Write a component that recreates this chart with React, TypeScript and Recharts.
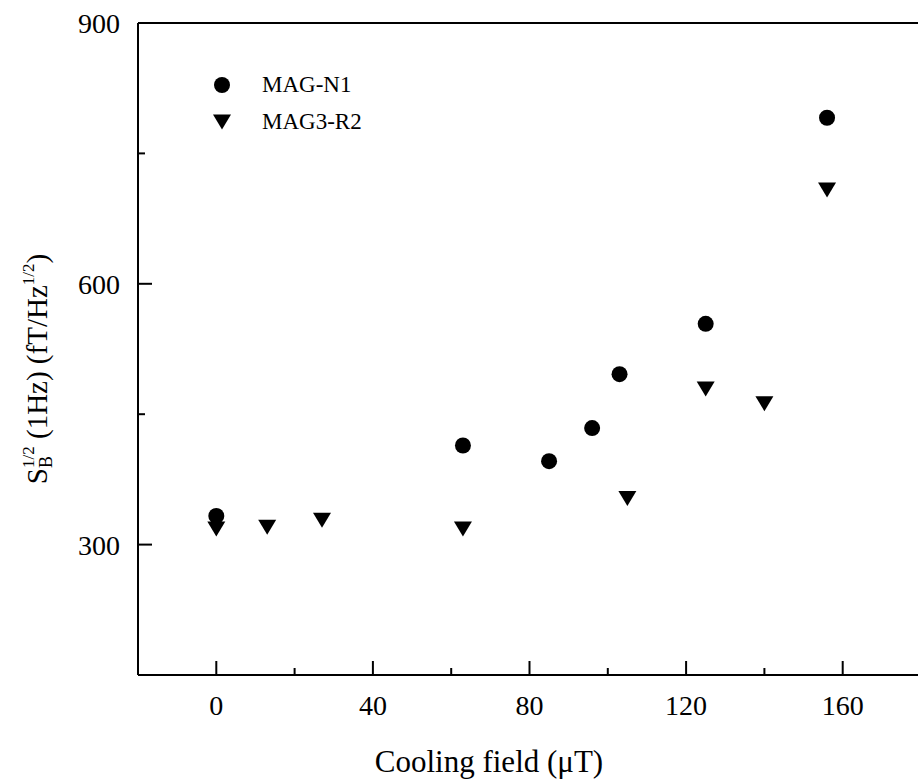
import { ScatterChart, Scatter, XAxis, YAxis, Legend } from 'recharts'

// cooling field (uT) vs noise S_B^1/2 at 1 Hz (fT/Hz^1/2)
const fieldN1 = [0, 63, 85, 96, 103, 125, 156]
const noiseN1 = [333, 414, 396, 434, 496, 554, 791]
const fieldR2 = [0, 13, 27, 63, 105, 125, 140, 156]
const noiseR2 = [318, 320, 328, 318, 353, 479, 462, 708]

const xMajor = [0, 40, 80, 120, 160]
const xTicks = [0, 20, 40, 60, 80, 100, 120, 140, 160]
const yMajor = [300, 600, 900]
const yTicks = [300, 450, 600, 750, 900]
const xDomain = [-20, 180]
const yDomain = [150, 900]

const n1 = fieldN1.map((x, i) => ({ x, y: noiseN1[i] }))
const r2 = fieldR2.map((x, i) => ({ x, y: noiseR2[i] }))

const font = '"Liberation Serif", "Times New Roman", serif'
const ink = '#000'
const line = { stroke: ink, strokeWidth: 2 }
const tickFont = 28
const GAP = 20
const MAJOR = 14
const MINOR = 7

function Dot(props: any) {
  return <circle cx={props.cx} cy={props.cy} r={8} fill={ink} />
}

function TriDown(props: any) {
  const { cx, cy } = props
  return <path d={`M${cx - 9},${cy - 7.5}L${cx + 9},${cy - 7.5}L${cx},${cy + 7.5}Z`} fill={ink} />
}

// tick renderers: draw the inward tick mark and (for majors) the number
function BottomTick(props: any) {
  const { x, y, payload } = props
  const major = xMajor.includes(payload.value)
  const y0 = y - GAP
  return (
    <g>
      <line x1={x} x2={x} y1={y0} y2={y0 - (major ? MAJOR : MINOR)} stroke={ink} strokeWidth={2} />
      {major && (
        <text x={x} y={y} dy="0.71em" textAnchor="middle" fontSize={tickFont} fontFamily={font} fill={ink}>
          {payload.value}
        </text>
      )}
    </g>
  )
}

function TopTick(props: any) {
  const { x, y, payload } = props
  const major = xMajor.includes(payload.value)
  const y0 = y + GAP
  return <line x1={x} x2={x} y1={y0} y2={y0 + (major ? MAJOR : MINOR)} stroke={ink} strokeWidth={2} />
}

function LeftTick(props: any) {
  const { x, y, payload } = props
  const major = yMajor.includes(payload.value)
  const x0 = x + GAP
  return (
    <g>
      <line x1={x0} x2={x0 + (major ? MAJOR : MINOR)} y1={y} y2={y} stroke={ink} strokeWidth={2} />
      {major && (
        <text x={x0 - 18} y={y} dy="0.355em" textAnchor="end" fontSize={tickFont} fontFamily={font} fill={ink}>
          {payload.value}
        </text>
      )}
    </g>
  )
}

function RightTick(props: any) {
  const { x, y, payload } = props
  const major = yMajor.includes(payload.value)
  const x0 = x - GAP
  return <line x1={x0} x2={x0 - (major ? MAJOR : MINOR)} y1={y} y2={y} stroke={ink} strokeWidth={2} />
}

function XTitle() {
  return (
    <text x={489} y={772} textAnchor="middle" fontSize={31} fontFamily={font} fill={ink}>
      Cooling field (μT)
    </text>
  )
}

function YTitle() {
  return (
    <text x={47} y={369} transform="rotate(-90 47 369)" textAnchor="middle" fontSize={29} fontFamily={font} fill={ink}>
      S
      <tspan fontSize={18} dy={5}>B</tspan>
      <tspan fontSize={17} dx={-12} dy={-18}>1/2</tspan>
      <tspan dy={13}> (1Hz) (fT/Hz</tspan>
      <tspan fontSize={17} dy={-13}>1/2</tspan>
      <tspan dy={13}>)</tspan>
    </text>
  )
}

function LegendBox() {
  const rows = [
    { name: 'MAG-N1', icon: <circle cx={12} cy={12} r={8} fill={ink} /> },
    { name: 'MAG3-R2', icon: <path d="M3,4.5L21,4.5L12,19.5Z" fill={ink} /> },
  ]
  return (
    <div style={{ fontFamily: font, fontSize: 23, color: ink }}>
      {rows.map((r) => (
        <div key={r.name} style={{ display: 'flex', alignItems: 'center', height: 37 }}>
          <svg width={24} height={24}>{r.icon}</svg>
          <span style={{ marginLeft: 28, lineHeight: '37px' }}>{r.name}</span>
        </div>
      ))}
    </div>
  )
}

export default function App() {
  return (
    <div style={{ position: 'absolute', left: 0, top: 0, width: 918, height: 782, overflow: 'hidden', background: '#fff' }}>
      <ScatterChart width={922} height={782} margin={{ top: 22, right: 0, bottom: 0, left: 0 }}>
        <XAxis
          xAxisId="x"
          type="number"
          dataKey="x"
          domain={xDomain}
          ticks={xTicks}
          interval={0}
          height={107}
          tick={BottomTick}
          tickLine={false}
          tickSize={0}
          tickMargin={GAP}
          axisLine={line}
          label={XTitle}
        />
        <XAxis
          xAxisId="xt"
          orientation="top"
          type="number"
          domain={xDomain}
          ticks={xTicks}
          interval={0}
          height={1}
          tick={TopTick}
          tickLine={false}
          tickSize={0}
          tickMargin={GAP}
          axisLine={line}
        />
        <YAxis
          yAxisId="y"
          type="number"
          dataKey="y"
          domain={yDomain}
          ticks={yTicks}
          interval={0}
          width={138}
          tick={LeftTick}
          tickLine={false}
          tickSize={0}
          tickMargin={GAP}
          axisLine={line}
          label={YTitle}
        />
        <YAxis
          yAxisId="yr"
          orientation="right"
          type="number"
          domain={yDomain}
          ticks={yTicks}
          interval={0}
          width={1}
          tick={RightTick}
          tickLine={false}
          tickSize={0}
          tickMargin={GAP}
          axisLine={line}
        />
        <Legend
          layout="vertical"
          align="center"
          verticalAlign="middle"
          wrapperStyle={{ left: 210, top: 66, width: 'auto' }}
          content={LegendBox}
        />
        <Scatter name="MAG3-R2" data={r2} xAxisId="x" yAxisId="y" shape={TriDown} isAnimationActive={false} />
        <Scatter name="MAG-N1" data={n1} xAxisId="x" yAxisId="y" shape={Dot} isAnimationActive={false} />
      </ScatterChart>
    </div>
  )
}
